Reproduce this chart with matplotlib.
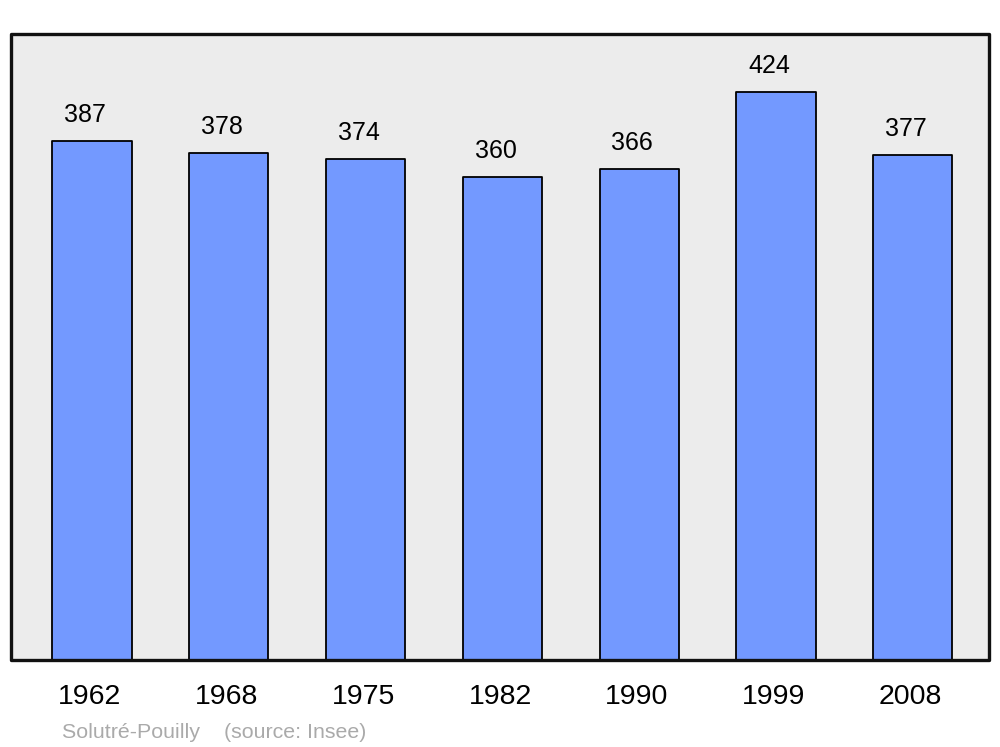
import matplotlib
matplotlib.use("Agg")
import matplotlib.pyplot as plt
import matplotlib.transforms as mtransforms
from matplotlib.patches import Rectangle

years = ["1962", "1968", "1975", "1982", "1990", "1999", "2008"]
population = [387, 378, 374, 360, 366, 424, 377]
source_text = "Solutré-Pouilly    (source: Insee)"

plt.rcParams['font.family'] = ['Liberation Sans', 'DejaVu Sans']

fig = plt.figure(figsize=(10, 7.47), dpi=100)
ax = fig.add_axes([0.011, 1 - 660 / 747, 0.978, 626 / 747])
ax.set_facecolor('#ececec')
for s in ax.spines.values():
    s.set_visible(False)

x = list(range(len(years)))
bars = ax.bar(x, population, width=0.58, color='#7399ff', edgecolor='black',
              linewidth=1.3, zorder=2)
for b in bars:
    b.set_joinstyle('round')

for xi, v in zip(x, population):
    ax.annotate(str(v), (xi, v), xytext=(-5, 13.7), textcoords='offset points',
                ha='center', va='baseline', fontsize=18, color='black')

ax.set_xlim(-0.592, 6.557)
ax.set_ylim(0, 467)
ax.set_yticks([])
ax.set_xticks(x)
ax.set_xticklabels(years, fontsize=20.5)
ax.tick_params(axis='x', length=0, pad=17)
shift = mtransforms.ScaledTranslation(-2.2 / 100, 0, fig.dpi_scale_trans)
for lbl in ax.get_xticklabels():
    lbl.set_transform(lbl.get_transform() + shift)

frame = Rectangle((0, 0), 1, 1, transform=ax.transAxes, fill=False,
                  edgecolor='#111111', linewidth=2.4, joinstyle='round',
                  clip_on=False, zorder=5)
ax.add_patch(frame)

fig.text(0.062, 1 - 738 / 747, source_text, fontsize=15.4, color='#aaaaaa',
         ha='left', va='baseline')

fig.savefig('out.png', dpi=100, facecolor='white')
